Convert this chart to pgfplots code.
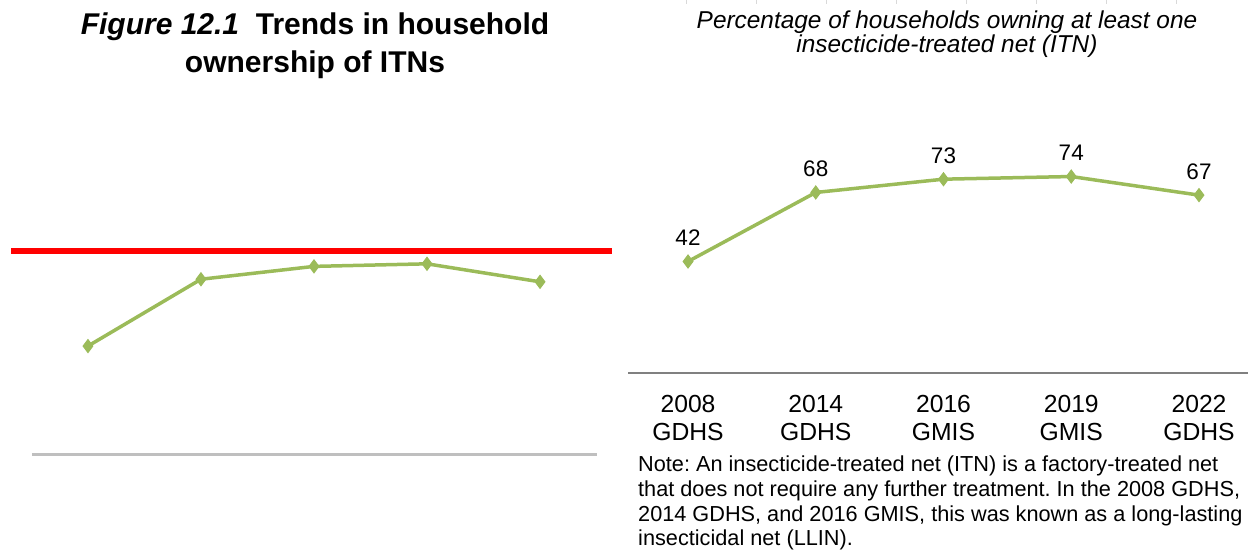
\documentclass[border=0pt]{standalone}
\usepackage{fontspec}
\setmainfont{Liberation Sans}
\usepackage{pgfplots}
\pgfplotsset{compat=1.18}
\definecolor{itngreen}{HTML}{9BBB59}
\definecolor{basegray}{HTML}{BFBFBF}
\definecolor{axisgray}{HTML}{808080}
\definecolor{targetred}{HTML}{FF0000}
\frenchspacing

\begin{document}
\begin{tikzpicture}
\path[use as bounding box] (0pt,0pt) rectangle (1248pt,550pt);

% faint ruler ticks at the top edge
\foreach \tx in {686,756,...,1176}
  \draw[gray!30, line width=0.8pt] (\tx pt,550pt) -- (\tx pt,546pt);

% left panel title
\node[anchor=base, inner sep=0, font=\fontsize{30}{36}\selectfont\bfseries]
  at (315pt,515pt) {\textit{Figure 12.1}\ \ Trends in household};
\node[anchor=base, inner sep=0, font=\fontsize{30}{36}\selectfont\bfseries]
  at (315pt,477pt) {ownership of ITNs};

% left panel
\begin{axis}[
    at={(11pt,96pt)}, anchor=south west,
    scale only axis, width=601pt, height=257pt,
    xmin=-0.681, xmax=4.637, ymin=0, ymax=100,
    hide axis, clip=false,
  ]
  \addplot[targetred, line width=6pt] coordinates {(-0.681,79) (4.637,79)};
  \addplot[basegray, line width=3pt] coordinates {(-0.496,0) (4.504,0)};
  \addplot[itngreen, line width=3.5pt, mark=diamond*, mark size=6.5pt,
    mark options={line width=1pt}]
    coordinates {(0,42) (1,68) (2,73) (3,74) (4,67)};
\end{axis}

% right panel title
\node[anchor=base, inner sep=0, font=\fontsize{24.4}{28}\selectfont\itshape]
  at (947pt,521pt) {Percentage of households owning at least one};
\node[anchor=base, inner sep=0, font=\fontsize{24.4}{28}\selectfont\itshape]
  at (947pt,497pt) {insecticide-treated net (ITN)};

% right panel
\begin{axis}[
    at={(628pt,177pt)}, anchor=south west,
    scale only axis, width=620pt, height=265.5pt,
    xmin=-0.4697, xmax=4.3836, ymin=0, ymax=100,
    axis x line=bottom, axis y line=none,
    x axis line style={draw=axisgray, line width=2pt, -},
    xtick={0,1,2,3,4},
    xticklabels={{2008\\GDHS},{2014\\GDHS},{2016\\GMIS},{2019\\GMIS},{2022\\GDHS}},
    xticklabel style={align=center, inner sep=0pt, yshift=-22pt,
      font=\fontsize{24.7}{28}\selectfont},
    major tick length=0pt,
    clip=false,
    nodes near coords,
    every node near coord/.append style={anchor=base, yshift=16pt,
      inner sep=0pt, text=black, font=\fontsize{22.5}{27}\selectfont},
    /pgf/number format/assume math mode=true,
  ]
  \addplot[itngreen, line width=3.5pt, mark=diamond*, mark size=6.5pt,
    mark options={line width=1pt}]
    coordinates {(0,42) (1,68) (2,73) (3,74) (4,67)};
\end{axis}

% note
\node[anchor=north west, align=left, inner sep=0,
  font=\fontsize{21.7}{24.6}\selectfont]
  at (638pt,94pt) {Note: An insecticide-treated net (ITN) is a factory-treated net\\
  that does not require any further treatment. In the 2008 GDHS,\\
  2014 GDHS, and 2016 GMIS, this was known as a long-lasting\\
  insecticidal net (LLIN).};
\end{tikzpicture}
\end{document}
